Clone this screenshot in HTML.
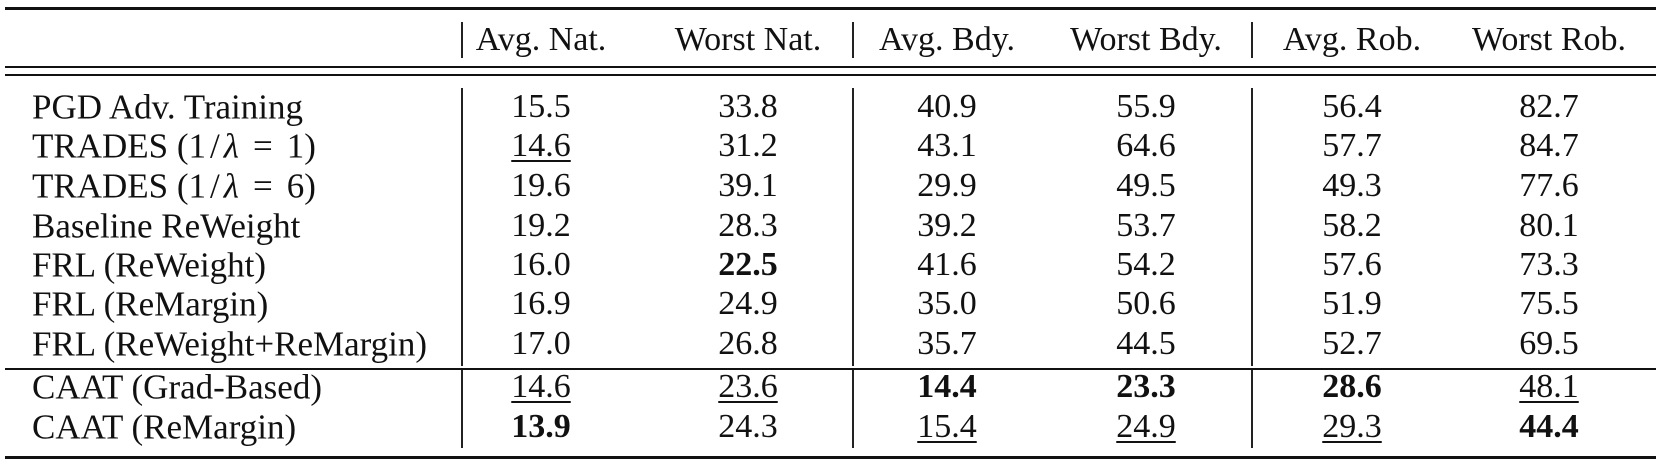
<!DOCTYPE html>
<html><head><meta charset="utf-8"><style>
body{margin:0;width:1663px;height:469px;background:#fff;overflow:hidden;font-family:"Liberation Serif",serif;color:#111;}
.r{position:absolute;left:5px;width:1651px;background:#111;}
.v{position:absolute;width:1.6px;background:#222;}
.t{position:absolute;font-size:34px;line-height:34px;white-space:nowrap;transform:translate(-50%,-50%);}
.l{position:absolute;font-size:35px;line-height:35px;white-space:nowrap;transform:translateY(-50%);left:32px;}
.u{text-decoration:underline;text-decoration-thickness:1.5px;text-underline-offset:4px;}
.b{font-weight:bold;}
.eq{margin:0 14px;}
.sl{margin:0 4px;}
</style></head><body>
<div class="r" style="top:7px;height:3px"></div>
<div class="r" style="top:66px;height:1.8px"></div>
<div class="r" style="top:74px;height:1.8px"></div>
<div class="r" style="top:368px;height:1.6px"></div>
<div class="r" style="top:456px;height:3px"></div>
<div id="tbl"></div>
<script>
const headers=["Avg. Nat.","Worst Nat.","Avg. Bdy.","Worst Bdy.","Avg. Rob.","Worst Rob."];
const methods=["PGD Adv. Training","TRADES (1<span class='sl'>/</span><i>λ</i><span class='eq'>=</span>1)","TRADES (1<span class='sl'>/</span><i>λ</i><span class='eq'>=</span>6)","Baseline ReWeight","FRL (ReWeight)","FRL (ReMargin)","FRL (ReWeight+ReMargin)","CAAT (Grad-Based)","CAAT (ReMargin)"];
const values=[
["15.5","33.8","40.9","55.9","56.4","82.7"],
["_14.6","31.2","43.1","64.6","57.7","84.7"],
["19.6","39.1","29.9","49.5","49.3","77.6"],
["19.2","28.3","39.2","53.7","58.2","80.1"],
["16.0","*22.5","41.6","54.2","57.6","73.3"],
["16.9","24.9","35.0","50.6","51.9","75.5"],
["17.0","26.8","35.7","44.5","52.7","69.5"],
["_14.6","_23.6","*14.4","*23.3","*28.6","_48.1"],
["*13.9","24.3","_15.4","_24.9","_29.3","*44.4"]];
const colX=[541,748,947,1146,1352,1549];
const rowY=[107,146,186,226,265,304,344,387,427];
const root=document.body;
function mk(cls,html,x,y,name){const d=document.createElement('div');d.className=cls;d.innerHTML=html;d.style.top=y+'px';if(x!==null)d.style.left=x+'px';


root.appendChild(d);return d;}
headers.forEach((h,i)=>mk('t',h,colX[i],40,'header-'+h.toLowerCase().replace(/[^a-z]+/g,'-').replace(/-$/,'')));
methods.forEach((m,r)=>{mk('l',m,null,rowY[r],'method-label-'+(r+1));
values[r].forEach((v,c)=>{let cls='t',txt=v;if(v[0]=='_'){cls+=' u';txt=v.slice(1);}else if(v[0]=='*'){cls+=' b';txt=v.slice(1);}
mk(cls,txt,colX[c],rowY[r],'cell-r'+(r+1)+'-c'+(c+1));});});
[[461],[852],[1251]].forEach(([x],i)=>{
[[22,58],[88,366],[370,448]].forEach(([a,b],j)=>{const d=document.createElement('div');d.className='v';d.style.left=x+'px';d.style.top=a+'px';d.style.height=(b-a)+'px';


root.appendChild(d);});});
</script>
</body></html>
